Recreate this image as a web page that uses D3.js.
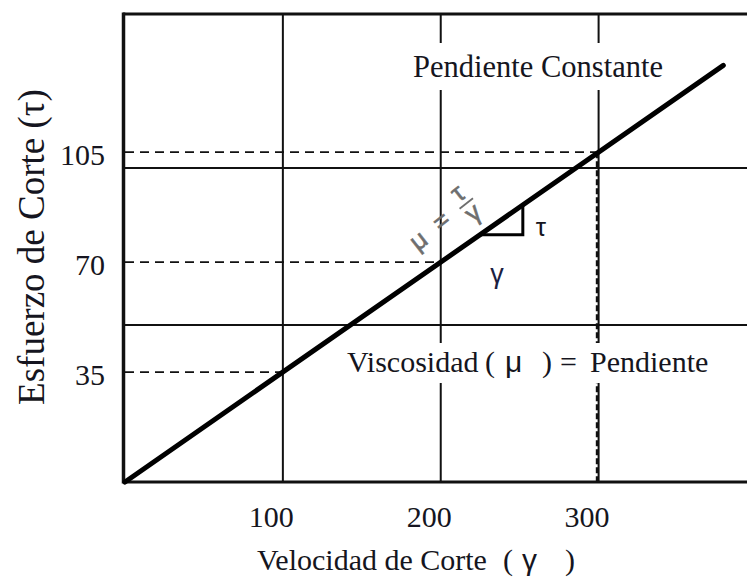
<!DOCTYPE html>
<html>
<head>
<meta charset="utf-8">
<script src="https://cdn.jsdelivr.net/npm/d3@7"></script>
<style>
  body { margin: 0; background: #fff; }
  svg { display: block; }
</style>
</head>
<body>
<figure style="margin:0"></figure>
<script>
const width = 747
const height = 578

// data
const xTicks = [100, 200, 300]
const yTicks = [35, 70, 105]
const xGrid = [100, 200, 300]
const yGrid = [50, 100]
const lineX = [0, 379]
const slope = 0.35
const triX = [225, 252]
const dashPoints = [[100, 35], [200, 70], [300, 105]]

const x = d3.scaleLinear().domain([0, 394]).range([125, 747])
const y = d3.scaleLinear().domain([0, 149]).range([482, 14])

const serif = '"Liberation Serif", "Times New Roman", serif'
const sans = '"Liberation Sans", Arial, sans-serif'
const ink = '#151520'

const svg = d3.select('figure').append('svg')
  .attr('width', width)
  .attr('height', height)

// grid
svg.append('g')
  .attr('stroke', '#111')
  .attr('stroke-width', 2)
  .selectAll('line')
  .data(xGrid)
  .join('line')
  .attr('x1', d => x(d))
  .attr('x2', d => x(d))
  .attr('y1', y.range()[1])
  .attr('y2', y.range()[0])

svg.append('g')
  .attr('stroke', '#111')
  .attr('stroke-width', 2)
  .selectAll('line')
  .data(yGrid)
  .join('line')
  .attr('x1', x.range()[0])
  .attr('x2', x.range()[1])
  .attr('y1', d => y(d))
  .attr('y2', d => y(d))

// white boxes behind labels
svg.append('rect')
  .attr('x', 405).attr('y', 43)
  .attr('width', 280).attr('height', 47)
  .attr('fill', '#fff')
svg.append('rect')
  .attr('x', 340).attr('y', 343)
  .attr('width', 375).attr('height', 40)
  .attr('fill', '#fff')

// dashed guides
const dashG = svg.append('g')
  .attr('stroke', '#111')
  .attr('stroke-width', 1.8)
  .attr('stroke-dasharray', '9,6')
  .attr('fill', 'none')

dashG.selectAll('line.h')
  .data(dashPoints)
  .join('line')
  .attr('class', 'h')
  .attr('x1', x(0))
  .attr('x2', d => x(d[0]))
  .attr('y1', d => y(d[1]))
  .attr('y2', d => y(d[1]))

const last = dashPoints[dashPoints.length - 1]
dashG.append('line')
  .attr('stroke-width', 2.6)
  .attr('stroke-dasharray', '6,3')
  .attr('x1', x(last[0]) - 1.5)
  .attr('x2', x(last[0]) - 1.5)
  .attr('y1', y(last[1]))
  .attr('y2', y(0))

// white gap for the vertical lines behind viscosity label
svg.append('rect')
  .attr('x', x(last[0]) - 6).attr('y', 343)
  .attr('width', 10).attr('height', 40)
  .attr('fill', '#fff')

// frame
svg.append('line')
  .attr('x1', 123).attr('x2', width)
  .attr('y1', y.range()[1]).attr('y2', y.range()[1])
  .attr('stroke', '#111').attr('stroke-width', 3)
svg.append('line')
  .attr('x1', 123).attr('x2', width)
  .attr('y1', y(0)).attr('y2', y(0))
  .attr('stroke', '#111').attr('stroke-width', 2.8)
svg.append('line')
  .attr('x1', 123.5).attr('x2', 123.5)
  .attr('y1', y.range()[1] - 1.5).attr('y2', y(0) + 1.4)
  .attr('stroke', '#111').attr('stroke-width', 3.5)

// main line
const line = d3.line().x(d => x(d)).y(d => y(d * slope))
svg.append('path')
  .datum(lineX)
  .attr('d', line)
  .attr('fill', 'none')
  .attr('stroke', '#000')
  .attr('stroke-width', 5)
  .attr('stroke-linecap', 'round')

// slope triangle
svg.append('path')
  .attr('d', d3.line()([
    [x(triX[0]), y(triX[0] * slope)],
    [x(triX[1]), y(triX[0] * slope)],
    [x(triX[1]), y(triX[1] * slope)]
  ]))
  .attr('fill', 'none')
  .attr('stroke', '#000')
  .attr('stroke-width', 3)

svg.append('text')
  .attr('x', 541).attr('y', 236)
  .attr('text-anchor', 'middle')
  .attr('font-family', sans)
  .attr('font-size', 26)
  .attr('fill', ink)
  .text('τ')
svg.append('text')
  .attr('x', 497).attr('y', 283)
  .attr('text-anchor', 'middle')
  .attr('font-family', sans)
  .attr('font-size', 27)
  .attr('fill', '#1a2040')
  .text('γ')

// rotated formula μ = τ/γ
const f = svg.append('g')
  .attr('transform', 'translate(418,240) rotate(-38)')
  .attr('fill', '#6e6e6e')
  .attr('stroke', '#6e6e6e')
  .attr('stroke-width', 0.6)
  .attr('font-family', sans)
  .attr('font-size', 26)
  .attr('text-anchor', 'middle')
f.append('text').attr('x', 0).attr('y', 9).text('μ')
f.append('text').attr('x', 30).attr('y', 8).text('=')
f.append('text').attr('x', 60).attr('y', -4).text('τ')
f.append('line')
  .attr('x1', 52).attr('x2', 69).attr('y1', 1).attr('y2', 1)
  .attr('stroke-width', 1.8)
f.append('text').attr('x', 60).attr('y', 21).text('γ')

// text in plot
svg.append('text')
  .attr('x', 538).attr('y', 77)
  .attr('text-anchor', 'middle')
  .attr('font-family', serif)
  .attr('font-size', 30.5)
  .attr('fill', ink)
  .text('Pendiente Constante')

const visc = svg.append('text')
  .attr('y', 372)
  .attr('font-family', serif)
  .attr('font-size', 30)
  .attr('fill', ink)
visc.append('tspan').attr('x', 347).text('Viscosidad')
visc.append('tspan').attr('x', 485).text('(')
visc.append('tspan').attr('x', 505).attr('font-family', sans).text('μ')
visc.append('tspan').attr('x', 542).text(')')
visc.append('tspan').attr('x', 560).text('=')
visc.append('tspan').attr('x', 590).text('Pendiente')

// axes (labels only)
const xAxis = svg.append('g')
  .attr('transform', `translate(0,${y(0)})`)
  .call(d3.axisBottom(x).tickValues(xTicks).tickSize(0).tickPadding(24))
xAxis.select('.domain').remove()
xAxis.selectAll('text')
  .attr('dx', -12)
  .attr('font-family', serif)
  .attr('font-size', 30)
  .attr('fill', ink)

const yAxis = svg.append('g')
  .attr('transform', `translate(${x(0)},0)`)
  .call(d3.axisLeft(y).tickValues(yTicks).tickSize(0).tickPadding(20))
yAxis.select('.domain').remove()
yAxis.selectAll('text')
  .attr('dy', '0.4em')
  .attr('font-family', serif)
  .attr('font-size', 30)
  .attr('fill', ink)

// axis titles
const xt = svg.append('text')
  .attr('y', 570)
  .attr('font-family', serif)
  .attr('font-size', 30)
  .attr('fill', ink)
xt.append('tspan').attr('x', 257).text('Velocidad de Corte')
xt.append('tspan').attr('x', 503).text('(')
xt.append('tspan').attr('x', 522).attr('font-family', sans).text('γ')
xt.append('tspan').attr('x', 565).text(')')

svg.append('text')
  .attr('transform', 'translate(44,247) rotate(-90)')
  .attr('text-anchor', 'middle')
  .attr('font-family', serif)
  .attr('font-size', 37)
  .attr('fill', ink)
  .text('Esfuerzo de Corte (τ)')
</script>
</body>
</html>
